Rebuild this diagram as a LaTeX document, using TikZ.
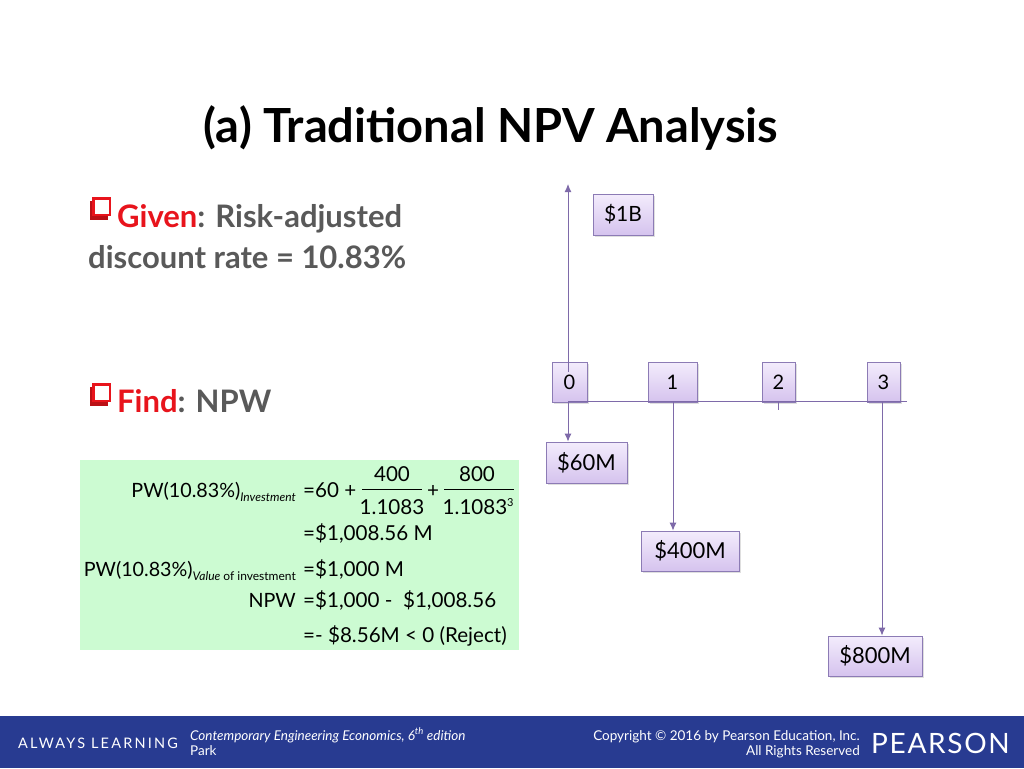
\documentclass[tikz,border=0pt]{standalone}
\usepackage{fontspec}
\setmainfont{Lato}
\usetikzlibrary{arrows.meta,shadows}
\definecolor{boxborder}{HTML}{8C7BB5}
\definecolor{boxtop}{HTML}{F3ECFC}
\definecolor{boxbot}{HTML}{D5C3EE}
\definecolor{linecol}{HTML}{7E6AA9}
\definecolor{gtext}{HTML}{595959}
\definecolor{bred}{HTML}{E8141C}
\definecolor{eqbg}{HTML}{CCFBD2}
\definecolor{footbg}{HTML}{283B91}
\tikzset{
  cfbox/.style={draw=boxborder, line width=0.8pt, top color=boxtop, bottom color=boxbot,
    drop shadow={shadow xshift=2pt, shadow yshift=-2pt, opacity=0.25},
    inner sep=0pt, font=\fontsize{20}{22}\selectfont, text=black},
  flow/.style={draw=linecol, line width=1pt, -{Latex[length=8pt,width=7pt]}},
  eq/.style={inner sep=0pt, font=\fontsize{20.6}{22}\selectfont},
  eql/.style={inner sep=0pt, font=\fontsize{19.7}{21}\selectfont},
  sub/.style={inner sep=0pt, font=\fontsize{12}{13}\selectfont},
  bul/.style={inner sep=0pt, font=\fontsize{31}{33}\selectfont\bfseries, text=gtext},
  foot/.style={inner sep=0pt, text=white}
}
\newcommand{\bulletbox}[2]{%
  \fill[bred!80!black] (#1-1,#2+2) rectangle (#1+17,#2+21);
  \fill[bred] (#1+1,#2-2) rectangle (#1+20,#2+17);
  \fill[white] (#1+3.5,#2+0.5) rectangle (#1+17.5,#2+14.5);
}
\begin{document}
\begin{tikzpicture}[x=1pt,y=-1pt]
\useasboundingbox[fill=white] (0,0) rectangle (1024,768);

% title
\node[inner sep=0pt, font=\fontsize{47}{50}\selectfont\bfseries] (title) at (491,128) {(a) Traditional NPV Analysis};

% bullets
\bulletbox{91}{199}
\node[bul, anchor=base west] (given) at (117,227) {\textcolor{bred}{Given}: Risk-adjusted};
\node[bul, anchor=base west] (given2) at (88,268) {discount rate = 10.83\%};
\bulletbox{91}{385}
\node[bul, anchor=base west] (find) at (117,412) {\textcolor{bred}{Find}: NPW};

% equation box
\fill[eqbg] (80,460) rectangle (519,650);
\node[eql, anchor=base east] (l1) at (296,497) {PW(10.83\%)\raisebox{-4pt}{\fontsize{12}{13}\selectfont\itshape Investment}};
\node[eq, anchor=base west] (r1) at (303,497) {=60 +};
\node[eq, anchor=base] (n1) at (392,481) {400};
\node[eq, anchor=base] (d1) at (392,514) {1.1083};
\draw[line width=0.8pt] (362,489) -- (422,489);
\node[eq, anchor=base] (p1) at (433,497) {+};
\node[eq, anchor=base] (n2) at (477,481) {800};
\node[eq, anchor=base] (d2) at (475,514) {1.1083};
\node[sub, anchor=base west, font=\fontsize{11}{12}\selectfont] (e2) at (507,506) {3};
\draw[line width=0.8pt] (444,489) -- (514,489);
\node[eq, anchor=base west] (r2) at (303,540) {=\$1,008.56 M};
\node[eql, anchor=base east] (l3) at (296,576) {PW(10.83\%)\raisebox{-4pt}{\fontsize{12}{13}\selectfont\textit{Value} of investment}};
\node[eq, anchor=base west] (r3) at (303,576) {=\$1,000 M};
\node[eql, anchor=base east] (l4) at (296,607) {NPW};
\node[eq, anchor=base west] (r4) at (303,607) {=\$1,000 -~ \$1,008.56};
\node[eq, anchor=base west] (r5) at (303,642) {=- \$8.56M < 0 (Reject)};

% cash flow diagram
\node[cfbox, minimum width=60pt, minimum height=41pt, font=\fontsize{21}{23}\selectfont] (b1B) at (623,214.5) {\$1B};
\node[cfbox, minimum width=35pt, minimum height=40pt] (t0) at (569.5,382) {0};
\node[cfbox, minimum width=49pt, minimum height=40pt] (t1) at (672.5,382) {1};
\node[cfbox, minimum width=33pt, minimum height=40pt] (t2) at (778.5,382) {2};
\node[cfbox, minimum width=33pt, minimum height=40pt] (t3) at (883.5,382) {3};
\node[cfbox, minimum width=81pt, minimum height=41pt, font=\fontsize{22}{24}\selectfont] (b60) at (586.5,462.5) {\$60M};
\node[cfbox, minimum width=98pt, minimum height=40pt, font=\fontsize{22}{24}\selectfont] (b400) at (690,551) {\$400M};
\node[cfbox, minimum width=94pt, minimum height=40pt, font=\fontsize{22}{24}\selectfont] (b800) at (875,656) {\$800M};

\coordinate (tl0) at (568,401);
\coordinate (tl1) at (673,401);
\coordinate (tl3) at (882,401);
\coordinate (tlend) at (907,401);
\coordinate (up) at (568,184);
\coordinate (upstart) at (568,372);
\coordinate (tick2) at (778,401);
\draw[draw=linecol, line width=1pt] (tl0) -- (tlend);
\draw[draw=linecol, line width=1pt] (tick2) -- ++(0,9);
\draw[flow] (upstart) -- (up);
\draw[flow] (tl0) -- (tl0 |- b60.north);
\draw[flow] (tl1) -- (tl1 |- b400.north);
\draw[flow] (tl3) -- (tl3 |- b800.north);

% footer
\fill[footbg] (0,716) rectangle (1024,768);
\node[foot, anchor=west, font=\fontsize{14.5}{15}\selectfont\addfontfeatures{LetterSpace=15}] (al) at (18,743) {ALWAYS LEARNING};
\node[foot, anchor=base west, font=\fontsize{13.5}{14}\selectfont\itshape] (bk) at (190,740) {Contemporary Engineering Economics, 6\textsuperscript{th} edition};
\node[foot, anchor=base west, font=\fontsize{13.5}{14}\selectfont] (au) at (190,755) {Park};
\node[foot, anchor=base east, font=\fontsize{13.5}{14}\selectfont] (cp) at (860,740) {Copyright \textcopyright{} 2016 by Pearson Education, Inc.};
\node[foot, anchor=base east, font=\fontsize{13.5}{14}\selectfont] (rr) at (860,755) {All Rights Reserved};
\node[foot, anchor=west, font=\fontsize{28}{29}\selectfont\addfontfeatures{LetterSpace=6}] (pe) at (871,743) {PEARSON};
\end{tikzpicture}
\end{document}
